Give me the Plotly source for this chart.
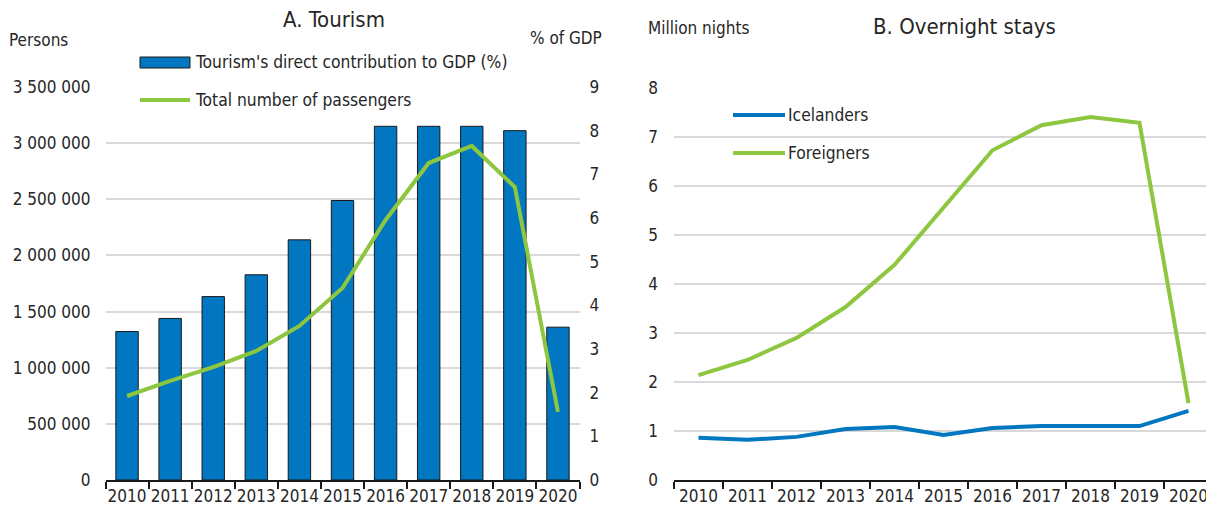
import plotly.graph_objects as go

years = [str(y) for y in range(2010, 2021)]
gdp_share = [3.4, 3.7, 4.2, 4.7, 5.5, 6.4, 8.1, 8.1, 8.1, 8.0, 3.5]
passengers = [748000, 882000, 1006000, 1149000, 1372000, 1710000, 2316000, 2823000, 2975000, 2609000, 606000]
icelanders = [0.86, 0.82, 0.88, 1.04, 1.08, 0.92, 1.06, 1.10, 1.10, 1.10, 1.41]
foreigners = [2.14, 2.45, 2.90, 3.53, 4.39, 5.57, 6.73, 7.24, 7.41, 7.29, 1.57]

persons_ticks = list(range(0, 3500001, 500000))
persons_labels = [f"{v:,}".replace(",", " ") for v in persons_ticks]

OFF = 8  # page body margin
W, H = 1214 - OFF, 507 - OFF
FONT = "DejaVu Sans Condensed, Liberation Sans, sans-serif"
BLUE = "#0077C0"
GREEN = "#8DC63F"
TXT = "#262626"

def px(x):
    return (x - OFF) / W

def py(y):
    return 1 - (y - OFF) / H

fig = go.Figure()
fig.add_trace(go.Bar(x=years, y=gdp_share, name="Tourism's direct contribution to GDP (%)",
                     marker=dict(color=BLUE, line=dict(color="#1a1a1a", width=1)),
                     xaxis="x", yaxis="y", showlegend=False))
fig.add_trace(go.Scatter(x=years, y=passengers, mode="lines", name="Total number of passengers",
                         line=dict(color=GREEN, width=4), xaxis="x", yaxis="y2", showlegend=False))
fig.add_trace(go.Scatter(x=years, y=icelanders, mode="lines", name="Icelanders",
                         line=dict(color=BLUE, width=4), xaxis="x3", yaxis="y3", showlegend=False))
fig.add_trace(go.Scatter(x=years, y=foreigners, mode="lines", name="Foreigners",
                         line=dict(color=GREEN, width=4), xaxis="x3", yaxis="y3", showlegend=False))

TS = 17
tickfont = dict(family=FONT, size=TS, color=TXT)
xcommon = dict(type="category", showline=True, linecolor="#1a1a1a", linewidth=1.5,
               ticks="outside", tickson="boundaries", ticklen=7, tickcolor="#1a1a1a",
               tickwidth=1.5, showgrid=False, tickfont=tickfont, zeroline=False,
               automargin=False, tickangle=0, range=[-0.5, 10.5], autorange=False)

fig.update_layout(
    width=W, height=H, margin=dict(l=0, r=0, t=0, b=0),
    paper_bgcolor="white", plot_bgcolor="white", bargap=0.48,
    font=dict(family=FONT, color=TXT),
    xaxis=dict(domain=[px(105.5), px(579.5)], anchor="y", **xcommon),
    yaxis=dict(domain=[py(480), py(87)], range=[0, 9], side="right", anchor="x",
               tickvals=list(range(0, 10)), showgrid=False, zeroline=False,
               tickfont=tickfont, ticks="", ticklabelstandoff=9, automargin=False),
    yaxis2=dict(range=[0, 3500000], overlaying="y", side="left", anchor="x",
                tickvals=persons_ticks, ticktext=persons_labels, showgrid=True,
                gridcolor="#d9d9d9", gridwidth=1.5, zeroline=False, tickfont=tickfont,
                ticks="", ticklabelstandoff=14, automargin=False),
    xaxis3=dict(domain=[px(674), px(1213)], anchor="y3", **xcommon),
    yaxis3=dict(domain=[py(480), py(88)], range=[0, 8], anchor="x3",
                tickvals=list(range(0, 9)), showgrid=True, gridcolor="#d9d9d9",
                gridwidth=1.5, zeroline=False, tickfont=tickfont, ticks="",
                ticklabelstandoff=15, automargin=False),
)

shapes = [
    dict(type="rect", xref="paper", yref="paper", x0=px(140), x1=px(190), y0=py(68), y1=py(57),
         fillcolor=BLUE, line=dict(color="#1a1a1a", width=1)),
    dict(type="line", xref="paper", yref="paper", x0=px(140), x1=px(190), y0=py(100), y1=py(100),
         line=dict(color=GREEN, width=4)),
    dict(type="line", xref="paper", yref="paper", x0=px(733), x1=px(785), y0=py(115), y1=py(115),
         line=dict(color=BLUE, width=4)),
    dict(type="line", xref="paper", yref="paper", x0=px(733), x1=px(785), y0=py(153), y1=py(153),
         line=dict(color=GREEN, width=4)),
]
fig.update_layout(shapes=shapes)

def ann(text, x, y, xanchor="left", size=TS):
    fig.add_annotation(text=text, xref="paper", yref="paper", x=px(x), y=py(y),
                       xanchor=xanchor, yanchor="middle", showarrow=False,
                       font=dict(family=FONT, size=size, color=TXT))

ann("A. Tourism", 334, 19.5, "center", 22)
ann("B. Overnight stays", 964, 26, "center", 22)
ann("Persons", 7, 40)
ann("% of GDP", 604, 38, "right")
ann("Million nights", 646, 28)
ann("Tourism's direct contribution to GDP (%)", 193, 62, size=17.3)
ann("Total number of passengers", 193, 100, size=17.3)
ann("Icelanders", 786, 115, size=17.3)
ann("Foreigners", 786, 153, size=17.3)

fig.write_html("out.html")
